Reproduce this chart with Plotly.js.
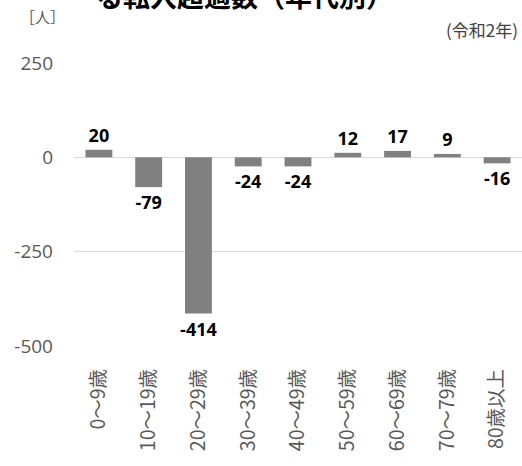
<!DOCTYPE html>
<html><head><meta charset="utf-8">
<script src="https://cdn.plot.ly/plotly-3.0.1.min.js"></script>
<style>html,body{margin:0;padding:0;background:#fff}</style>
</head><body>
<div id="chart" style="width:522px;height:466px"></div>
<script>
const categories = ["0～9歳","10～19歳","20～29歳","30～39歳","40～49歳","50～59歳","60～69歳","70～79歳","80歳以上"];
const values = [20, -79, -414, -24, -24, 12, 17, 9, -16];
const yTicks = [250, 0, -250, -500];
const titleText = "る転入超過数（年代別）";
const unitText = "［人］";
const yearText = "(令和2年)";

const font = "'Noto Sans CJK JP', 'Noto Sans', sans-serif";
const numFont = "'Open Sans', 'Noto Sans CJK JP', sans-serif";
Plotly.newPlot('chart', [{
  type: 'bar',
  x: categories,
  y: values,
  marker: {color: '#808080'},
  text: values.map(String),
  textposition: 'outside',
  constraintext: 'none',
  textfont: {family: numFont, size: 18, color: '#000000', weight: 'bold'},
  cliponaxis: false,
  hoverinfo: 'none'
}], {
  width: 522, height: 466,
  margin: {l: 74, r: 0, t: 63, b: 120},
  paper_bgcolor: '#ffffff', plot_bgcolor: '#ffffff',
  showlegend: false,
  bargap: 0.46,
  font: {family: font},
  xaxis: {
    type: 'category',
    tickangle: -90,
    tickfont: {family: font, size: 19.5, color: '#595959'},
    showgrid: false, showline: false, ticks: '',
    ticklabelstandoff: 18
  },
  yaxis: {
    range: [-500, 250],
    tickvals: yTicks,
    ticktext: yTicks.map(String),
    tickfont: {family: numFont, size: 19, color: '#595959'},
    showgrid: true, gridcolor: '#d9d9d9', gridwidth: 1.3,
    zeroline: true, zerolinecolor: '#d9d9d9', zerolinewidth: 1.3,
    showline: false, ticks: '',
    ticklabelstandoff: 20
  },
  annotations: [
    {text: titleText, xref: 'paper', yref: 'paper', x: 0.38, y: 1.24, xanchor: 'center', yanchor: 'middle',
     showarrow: false, font: {family: font, size: 27, color: '#000000', weight: 'bold'}},
    {text: unitText, xref: 'paper', yref: 'paper', x: -0.125, y: 1.163, xanchor: 'left', yanchor: 'middle',
     showarrow: false, font: {family: font, size: 15, color: '#595959'}},
    {text: yearText, xref: 'paper', yref: 'paper', x: 0.995, y: 1.117, xanchor: 'right', yanchor: 'middle',
     showarrow: false, font: {family: font, size: 17, color: '#404040'}}
  ]
}, {displayModeBar: false, staticPlot: true});
</script>
</body></html>
